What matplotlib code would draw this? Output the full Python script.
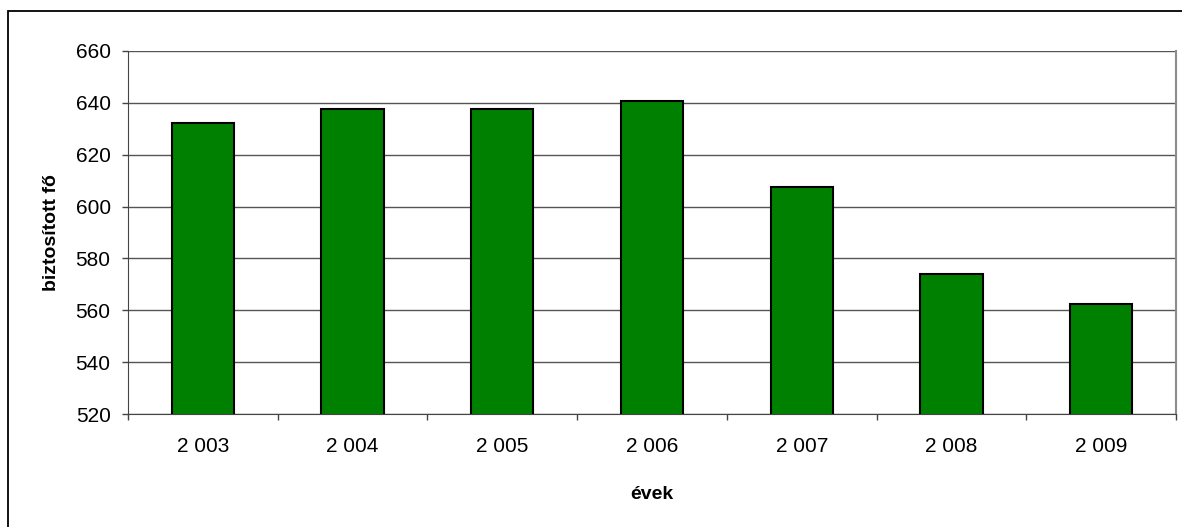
import matplotlib
matplotlib.use("Agg")
import matplotlib.pyplot as plt
from matplotlib.patches import Rectangle

years = ["2 003", "2 004", "2 005", "2 006", "2 007", "2 008", "2 009"]
insured = [632.3, 637.6, 637.6, 640.6, 607.4, 574.2, 562.3]
y_ticks = [520, 540, 560, 580, 600, 620, 640, 660]

plt.rcParams["font.family"] = ["Liberation Sans", "DejaVu Sans"]

W, H = 1182, 527
fig = plt.figure(figsize=(W / 100, H / 100), dpi=100)
fig.patch.set_facecolor("white")

# outer chart frame
fig.patches.append(Rectangle((8 / W, -0.1), 1.2, 1 - 10.5 / H + 0.1,
                             transform=fig.transFigure, fill=False,
                             edgecolor="black", linewidth=1.3))

ax = fig.add_axes([128 / W, 1 - 414.3 / H, (1176 - 128) / W, (414.3 - 50.7) / H])
x = range(len(years))
ax.bar(x, insured, width=0.416, color="#008000", edgecolor="black",
       linewidth=1.5, zorder=3)

ax.set_xlim(-0.5, len(years) - 0.5)
ax.set_ylim(520, 660)
ax.set_yticks(y_ticks)
ax.set_xticks(list(x))
ax.set_xticklabels(years)
ax.set_xticks([i + 0.5 for i in range(-1, len(years))], minor=True)

ax.grid(axis="y", color="#555555", linewidth=1.0, zorder=1)
ax.set_axisbelow(True)

ax.spines["top"].set_visible(False)
ax.spines["right"].set_color("#8c8c8c")
ax.spines["right"].set_linewidth(1.5)
ax.spines["left"].set_color("#444444")
ax.spines["bottom"].set_color("#444444")

ax.tick_params(axis="x", which="major", length=0, pad=16, labelsize=15)
ax.tick_params(axis="x", which="minor", length=4.5, width=1, color="#444444",
               direction="out")
ax.tick_params(axis="y", length=4.5, width=1, color="#444444", pad=8,
               labelsize=15)

ax.set_ylabel("biztosított fő", fontsize=14, fontweight="bold", labelpad=11)
ax.set_xlabel("évek", fontsize=14, fontweight="bold", labelpad=22)

fig.savefig("out.png", dpi=100, facecolor="white")
